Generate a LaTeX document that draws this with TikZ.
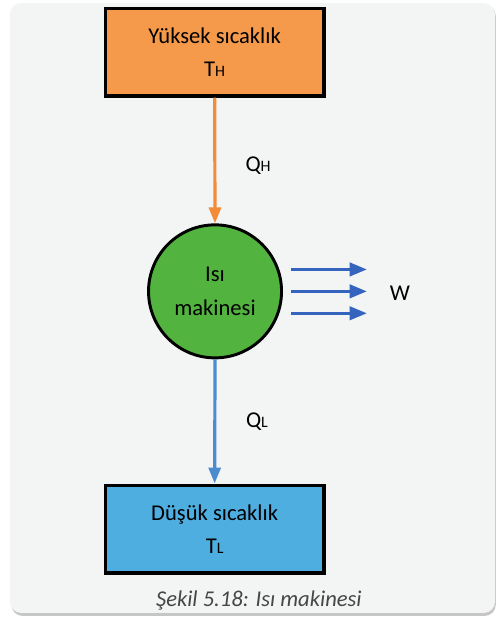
\documentclass[tikz,border=0pt]{standalone}
\usepackage{fontspec}
\setmainfont{Carlito}
\usetikzlibrary{arrows.meta,positioning,calc}
\definecolor{panelgray}{RGB}{243,244,244}
\definecolor{hotorange}{RGB}{245,154,74}
\definecolor{lineorange}{RGB}{242,140,56}
\definecolor{enggreen}{RGB}{82,180,62}
\definecolor{coldblue}{RGB}{78,174,224}
\definecolor{lineblue}{RGB}{74,140,206}
\definecolor{workblue}{RGB}{52,100,190}
\definecolor{capgray}{RGB}{70,70,70}
\newcommand{\sbx}[1]{{\fontsize{12}{14}\selectfont #1}}

\begin{document}
\begin{tikzpicture}[
  tbox/.style={rectangle,draw=black,line width=2.6pt,minimum width=5.79cm,
               minimum height=2.32cm,align=center,font=\fontsize{17}{25}\selectfont},
  engine/.style={circle,draw=black,line width=2.2pt,fill=enggreen,
                 minimum size=3.52cm,align=center,font=\fontsize{17}{25}\selectfont},
  lbl/.style={font=\fontsize{17}{20}\selectfont},
  harrow/.style={-{Triangle[length=12pt,width=9pt]},line width=2.4pt,lineorange},
  carrow/.style={-{Triangle[length=12pt,width=9pt]},line width=2.4pt,lineblue},
  warrow/.style={-{Triangle[length=13pt,width=10pt]},line width=2.4pt,workblue}]
\useasboundingbox (0,0) rectangle (13.20,-16.38);
\fill[gray!45,rounded corners=0.3cm] (0.30,-0.12) rectangle (13.12,-16.30);
\fill[panelgray,rounded corners=0.3cm] (0.26,-0.08) rectangle (13.10,-16.22);
\node[tbox,fill=hotorange] (hot) at (5.68,-1.38) {Yüksek sıcaklık\\T\sbx{H}};
\node[engine] (eng) at (5.69,-7.71) {Isı\\makinesi};
\node[tbox,fill=coldblue] (cold) at (5.68,-14.0) {Düşük sıcaklık\\T\sbx{L}};
\node[lbl] (qh) at (6.83,-4.39) {Q\sbx{H}};
\node[lbl] (ql) at (6.80,-11.17) {Q\sbx{L}};
\node[lbl] (w) at (10.58,-7.75) {W};
\draw[harrow] (hot.south) -- (eng.north);
\draw[carrow] (eng.south) -- (cold.north);
\foreach \dy in {0.58,0,-0.58}
  \draw[warrow] ([xshift=0.22cm,yshift=\dy cm]eng.east) -- ++(2cm,0);
\node[font=\itshape\fontsize{17}{20}\selectfont,text=capgray] (cap) at (6.85,-15.90)
  {Şekil 5.18: Isı makinesi};
\end{tikzpicture}
\end{document}
